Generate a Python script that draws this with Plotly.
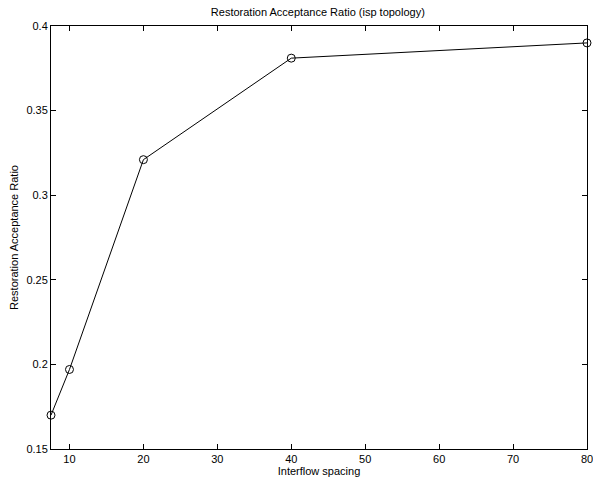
import plotly.graph_objects as go

x_vals = [7.5, 10, 20, 40, 80]
y_vals = [0.170, 0.197, 0.321, 0.381, 0.390]
x_ticks = [10, 20, 30, 40, 50, 60, 70, 80]
y_ticks = [0.15, 0.2, 0.25, 0.3, 0.35, 0.4]
y_tick_labels = ["0.15", "0.2", "0.25", "0.3", "0.35", "0.4"]

font = dict(family="Liberation Sans, Arial, sans-serif", size=11, color="black")

fig = go.Figure()
fig.add_trace(go.Scatter(
    x=x_vals, y=y_vals, mode="lines+markers",
    line=dict(color="black", width=1),
    marker=dict(symbol="circle-open", size=8, color="black", line=dict(width=1)),
    cliponaxis=False, showlegend=False,
))

axis_common = dict(
    showline=True, linecolor="black", linewidth=1, mirror="ticks",
    ticks="inside", ticklen=5, tickcolor="black", tickwidth=1,
    showgrid=False, zeroline=False, tickfont=font, automargin=False,
    ticklabeloverflow="allow",
)

fig.update_layout(
    width=593, height=477,
    margin=dict(l=51, r=6, t=26, b=28),
    paper_bgcolor="white", plot_bgcolor="white",
    font=font,
    title=dict(text="Restoration Acceptance Ratio (isp topology)", x=0.536, xref="container",
               xanchor="center", y=1 - 12 / 477, yref="container", yanchor="middle",
               font=dict(size=11, family=font["family"], color="black")),
    xaxis=dict(range=[7.5, 80], tickvals=x_ticks,
               title=dict(text="Interflow spacing", standoff=5, font=font), **axis_common),
    yaxis=dict(range=[0.15, 0.4], tickvals=y_ticks, ticktext=y_tick_labels,
               title=dict(text="Restoration Acceptance Ratio", standoff=5, font=font), **axis_common),
)

fig.write_html("out.html", config={"displayModeBar": False},
               post_script="document.body.style.margin='0';document.body.style.overflow='hidden';")
